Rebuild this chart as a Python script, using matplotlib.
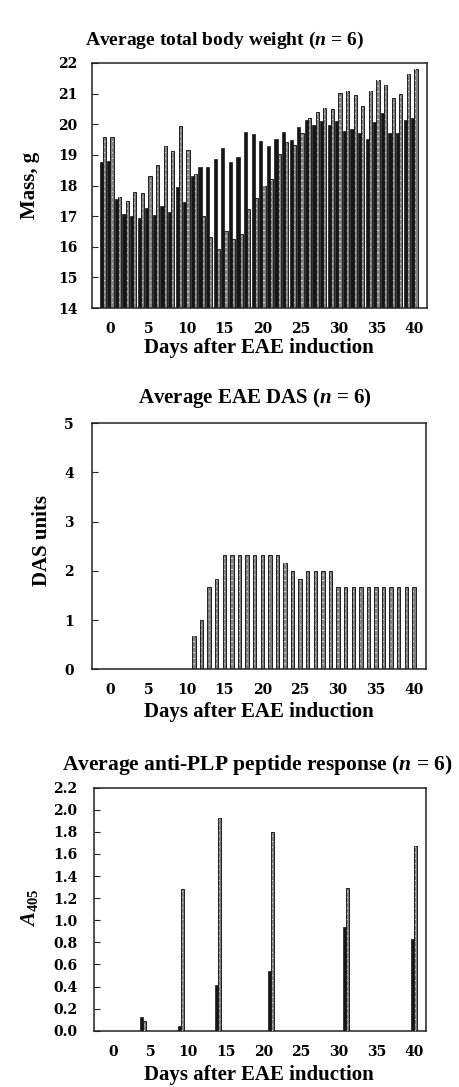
import matplotlib
matplotlib.use("Agg")
import matplotlib.pyplot as plt
import numpy as np

plt.rcParams.update({
    'mathtext.fontset': 'custom',
    'mathtext.rm': 'Liberation Serif',
    'mathtext.it': 'Liberation Serif:italic',
    'mathtext.bf': 'Liberation Serif:bold',
    'mathtext.bfit': 'Liberation Serif:italic:bold',
    'hatch.linewidth': 0.7,
})

# ---------------- data ----------------
days = list(range(-1, 41))  # -1 .. 40

weight_dark = [18.78, 18.80, 17.55, 17.07, 17.01, 16.95, 17.26, 17.04, 17.34, 17.12,
               17.96, 17.45, 18.30, 18.60, 18.62, 18.86, 19.24, 18.77, 18.94, 19.76,
               19.68, 19.46, 19.30, 19.53, 19.76, 19.50, 19.90, 20.15, 19.96, 20.10,
               19.96, 20.11, 19.79, 19.83, 19.73, 19.53, 20.06, 20.36, 19.72, 19.70,
               20.15, 20.22]
weight_light = [19.57, 19.60, 17.64, 17.50, 17.80, 17.76, 18.30, 18.68, 19.28, 19.14,
                19.93, 19.15, 18.36, 16.99, 16.31, 15.93, 16.50, 16.26, 16.43, 17.22,
                17.59, 18.00, 18.21, 19.03, 19.42, 19.32, 19.72, 20.22, 20.39, 20.54,
                20.50, 21.03, 21.10, 20.96, 20.58, 21.10, 21.45, 21.27, 20.85, 20.98,
                21.64, 21.82]

das = [0]*12 + [0.67, 1.00, 1.67, 1.83] + [2.33]*8 + [2.17, 2.00, 1.83] + [2.00]*4 + [1.67]*11

plp_days = [4, 9, 14, 21, 31, 40]
plp_dark = [0.12, 0.045, 0.41, 0.54, 0.94, 0.83]
plp_light = [0.09, 1.28, 1.93, 1.80, 1.29, 1.67]

xticks = [0, 5, 10, 15, 20, 25, 30, 35, 40]
w_ticks = [14, 15, 16, 17, 18, 19, 20, 21, 22]
das_ticks = [0, 1, 2, 3, 4, 5]
plp_ticks = [0.0, 0.2, 0.4, 0.6, 0.8, 1.0, 1.2, 1.4, 1.6, 1.8, 2.0, 2.2]

# ---------------- figure ----------------
W, H = 459, 1087
fig = plt.figure(figsize=(W/100, H/100), dpi=100)
fig.patch.set_facecolor('white')

SERIF = ['Liberation Serif', 'DejaVu Serif']
TICKF = ['DejaVu Serif']
DARK = '#161616'
GREY = '#808080'

def ax_px(l, r, t, b):
    return fig.add_axes([l/W, 1-b/H, (r-l)/W, (b-t)/H])

def light_bars(ax, x, h, w):
    ax.bar(x, h, w, color=GREY, edgecolor='#1e1e1e', linewidth=0.7, zorder=2)
    ax.bar(x, h, w*0.35, color='none', edgecolor='#e8e8e8', linewidth=0, hatch='---', zorder=3)

def dark_bars(ax, x, h, w):
    ax.bar(x, h, w, color=DARK, edgecolor=DARK, linewidth=0.5, zorder=2)

def style(ax, ylim, yticks, yfmt, pad_y):
    ax.set_xlim(-2.5, 41.6)
    ax.set_ylim(*ylim)
    ax.set_xticks(xticks)
    ax.set_xticklabels([str(t) for t in xticks], fontfamily=TICKF, fontweight='bold', fontsize=10)
    ax.set_yticks(yticks)
    ax.set_yticklabels([yfmt.format(t) for t in yticks], fontfamily=TICKF, fontweight='bold', fontsize=10)
    ax.tick_params(axis='x', length=0, pad=10)
    ax.tick_params(axis='y', direction='in', length=4, width=0.8, pad=pad_y, color='#222222')
    for s in ax.spines.values():
        s.set_linewidth(1.1)
        s.set_color('#222222')
    ax.set_facecolor('white')

def ftext(x, y, s, **kw):
    fig.text(x/W, 1-y/H, s, **kw)

off = 0.21
bw = 0.42
d = np.array(days)

# Panel 1: body weight
ax1 = ax_px(91.5, 426.5, 63, 308)
dark_bars(ax1, d - off, weight_dark, bw)
light_bars(ax1, d + off, weight_light, bw)
style(ax1, (14, 22), w_ticks, '{:d}', 10)

# Panel 2: DAS
ax2 = ax_px(91.7, 426.0, 423.3, 669.3)
das_arr = np.array(das)
mask = das_arr > 0
light_bars(ax2, d[mask], das_arr[mask], 0.45)
style(ax2, (0, 5), das_ticks, '{:d}', 13)

# Panel 3: anti-PLP
ax3 = ax_px(94.3, 426.0, 787.7, 1030.7)
pd_ = np.array(plp_days)
dark_bars(ax3, pd_ - 0.2, plp_dark, 0.4)
light_bars(ax3, pd_ + 0.2, plp_light, 0.4)
style(ax3, (0, 2.2), plp_ticks, '{:.1f}', 12)

# Titles
tkw = dict(fontfamily=SERIF, fontweight='bold', fontsize=15, ha='center', va='center')
ftext(224, 40, r'Average total body weight ($\mathbfit{n}$ = 6)', **dict(tkw, fontsize=14))
ftext(255, 398, r'Average EAE DAS ($\mathbfit{n}$ = 6)', **tkw)
ftext(257, 765, r'Average anti-PLP peptide response ($\mathbfit{n}$ = 6)', **dict(tkw, fontsize=15.5))

# x labels
for yy in (348, 712, 1075):
    ftext(259, yy, 'Days after EAE induction', **tkw)

# y labels
ykw = dict(fontfamily=SERIF, fontweight='bold', fontsize=15, ha='center', va='center', rotation=90)
ftext(30, 185, 'Mass, g', **ykw)
ftext(42, 541, 'DAS units', **ykw)
ftext(30, 908, r'$\mathbfit{A}_{\mathbf{405}}$', **ykw)

fig.savefig('out.png', dpi=100, facecolor='white')
